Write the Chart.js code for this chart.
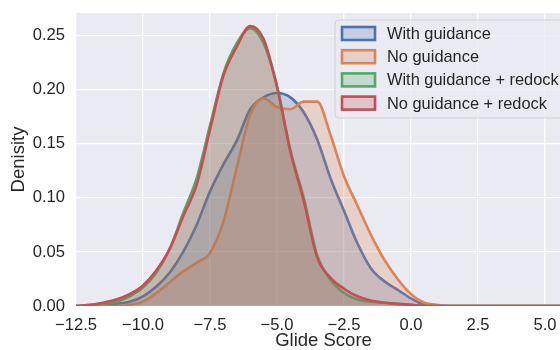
<!DOCTYPE html>
<html lang="en">
	<head>
		<meta charset="UTF-8" />
		<title>Glide Score density</title>
		<script src="https://cdn.jsdelivr.net/npm/chart.js"></script>
		<style>
			html,
			body {
				margin: 0;
				padding: 0;
				background: #ffffff;
			}
			/* the original figure is cropped on the right, so the plot runs past the frame */
			#frame {
				width: 560px;
				height: 350px;
				overflow: hidden;
			}
			#wrap {
				width: 571px;
				height: 350px;
			}
		</style>
	</head>
	<body>
		<div id="frame"><div id="wrap"><canvas id="myChart"></canvas></div></div>

		<script>
			// Glide score grid (x) and density for each group
			var scores = [
				-12.5, -12, -11.5, -11, -10.5, -10, -9.5, -9, -8.5, -8, -7.5, -7, -6.5, -6, -5.5, -5, -4.5,
				-4, -3.5, -3, -2.5, -2, -1.5, -1, -0.5, 0, 0.5, 1, 1.5, 2, 2.5, 3, 3.5, 4, 4.5, 5, 5.5, 6,
			];
			var withGuidance = [
				0.0, 0.0, 0.001, 0.002, 0.004, 0.009, 0.018, 0.031, 0.05, 0.075, 0.106, 0.131, 0.153, 0.182,
				0.193, 0.197, 0.193, 0.179, 0.154, 0.118, 0.088, 0.058, 0.035, 0.023, 0.015, 0.007, 0.001, 0,
				0, 0, 0, 0, 0, 0, 0, 0, 0, 0,
			];
			var noGuidance = [
				0, 0, 0, 0, 0.001, 0.004, 0.012, 0.022, 0.032, 0.04, 0.049, 0.078, 0.128, 0.177, 0.192, 0.184,
				0.182, 0.189, 0.189, 0.158, 0.12, 0.093, 0.066, 0.043, 0.025, 0.011, 0.003, 0.001, 0, 0, 0, 0,
				0, 0, 0, 0, 0, 0,
			];
			var withGuidanceRedock = [
				0, 0.001, 0.002, 0.004, 0.009, 0.017, 0.031, 0.053, 0.086, 0.118, 0.167, 0.215, 0.243, 0.257,
				0.243, 0.203, 0.144, 0.1, 0.047, 0.024, 0.012, 0.006, 0.004, 0.003, 0.002, 0.001, 0, 0, 0, 0,
				0, 0, 0, 0, 0, 0, 0, 0,
			];
			var noGuidanceRedock = [
				0, 0.001, 0.003, 0.006, 0.011, 0.019, 0.033, 0.053, 0.083, 0.112, 0.163, 0.213, 0.24, 0.259,
				0.247, 0.203, 0.143, 0.097, 0.045, 0.026, 0.016, 0.009, 0.005, 0.003, 0.002, 0.001, 0, 0, 0,
				0, 0, 0, 0, 0, 0, 0, 0, 0,
			];

			var seriesLabels = [
				"With guidance",
				"No guidance",
				"With guidance + redock",
				"No guidance + redock",
			];
			var seriesColors = ["#4c72b0", "#dd8452", "#55a868", "#c44e52"];
			var xTicks = [-12.5, -10, -7.5, -5, -2.5, 0, 2.5, 5];
			var yTicks = [0, 0.05, 0.1, 0.15, 0.2, 0.25];

			var fontFamily = "'Liberation Sans', Arial, sans-serif";
			var textColor = "#262626";

			function withAlpha(hex, a) {
				var r = parseInt(hex.slice(1, 3), 16);
				var g = parseInt(hex.slice(3, 5), 16);
				var b = parseInt(hex.slice(5, 7), 16);
				return "rgba(" + r + "," + g + "," + b + "," + a + ")";
			}

			function toPoints(values) {
				return scores.map(function (x, i) {
					return { x: x, y: values[i] };
				});
			}

			var allSeries = [withGuidance, noGuidance, withGuidanceRedock, noGuidanceRedock];
			var datasets = allSeries.map(function (values, i) {
				return {
					label: seriesLabels[i],
					data: toPoints(values),
					borderColor: seriesColors[i],
					backgroundColor: withAlpha(seriesColors[i], 0.25),
					borderWidth: 2.6,
					fill: "origin",
					cubicInterpolationMode: "monotone",
					pointRadius: 0,
					clip: 0,
					order: 3 - i, // later groups drawn on top
				};
			});

			// grey-blue plot background like seaborn darkgrid
			var plotBg = {
				id: "plotBg",
				beforeDraw: function (chart) {
					var a = chart.chartArea;
					var ctx = chart.ctx;
					ctx.save();
					ctx.fillStyle = "#eaeaf2";
					ctx.fillRect(a.left, a.top, a.right - a.left, a.bottom - a.top);
					ctx.restore();
				},
			};

			// framed legend in the upper right corner
			var boxLegend = {
				id: "boxLegend",
				afterDraw: function (chart) {
					var ctx = chart.ctx;
					var x0 = 335,
						y0 = 20,
						w = 229,
						h = 98,
						r = 4;
					ctx.save();
					ctx.beginPath();
					ctx.moveTo(x0 + r, y0);
					ctx.lineTo(x0 + w - r, y0);
					ctx.arcTo(x0 + w, y0, x0 + w, y0 + r, r);
					ctx.lineTo(x0 + w, y0 + h - r);
					ctx.arcTo(x0 + w, y0 + h, x0 + w - r, y0 + h, r);
					ctx.lineTo(x0 + r, y0 + h);
					ctx.arcTo(x0, y0 + h, x0, y0 + h - r, r);
					ctx.lineTo(x0, y0 + r);
					ctx.arcTo(x0, y0, x0 + r, y0, r);
					ctx.closePath();
					ctx.fillStyle = "rgba(234,234,242,0.8)";
					ctx.fill();
					ctx.strokeStyle = "#cfcfd6";
					ctx.lineWidth = 1;
					ctx.stroke();

					ctx.font = "16.4px " + fontFamily;
					ctx.textBaseline = "middle";
					ctx.textAlign = "left";
					for (var i = 0; i < seriesLabels.length; i++) {
						var cy = 33.5 + i * 23.2;
						ctx.fillStyle = withAlpha(seriesColors[i], 0.25);
						ctx.fillRect(342, cy - 6.5, 33, 13);
						ctx.strokeStyle = seriesColors[i];
						ctx.lineWidth = 2.6;
						ctx.strokeRect(342, cy - 6.5, 33, 13);
						ctx.fillStyle = textColor;
						ctx.fillText(seriesLabels[i], 387, cy + 1);
					}
					ctx.restore();
				},
			};

			var ctx = document.getElementById("myChart").getContext("2d");
			var myChart = new Chart(ctx, {
				type: "line",
				data: { datasets: datasets },
				plugins: [plotBg, boxLegend],
				options: {
					responsive: true,
					maintainAspectRatio: false,
					animation: false,
					layout: { padding: { top: 13, right: 0, left: 0, bottom: 0 } },
					plugins: {
						legend: { display: false },
						tooltip: { enabled: false },
					},
					scales: {
						x: {
							type: "linear",
							min: -12.5,
							max: 5.97,
							afterBuildTicks: function (scale) {
								scale.ticks = xTicks.map(function (v) {
									return { value: v };
								});
							},
							afterFit: function (scale) {
								scale.height = 44;
								scale.paddingLeft = 0;
								scale.paddingRight = 0;
							},
							grid: { color: "#ffffff", lineWidth: 1.3, drawTicks: false },
							border: { display: false },
							ticks: {
								padding: 9,
								color: textColor,
								maxRotation: 0,
								font: { family: fontFamily, size: 16.6 },
								callback: function (value) {
									return value.toFixed(1).replace("-", "\u2212");
								},
							},
							title: {
								display: true,
								text: "Glide Score",
								color: textColor,
								font: { family: fontFamily, size: 18.5, lineHeight: 1 },
								padding: { top: 0, bottom: 0 },
							},
						},
						y: {
							min: 0,
							max: 0.271,
							afterBuildTicks: function (scale) {
								scale.ticks = yTicks.map(function (v) {
									return { value: v };
								});
							},
							afterFit: function (scale) {
								scale.width = 76;
								scale.paddingTop = 0;
								scale.paddingBottom = 0;
							},
							grid: { color: "#ffffff", lineWidth: 1.3, drawTicks: false },
							border: { display: false },
							ticks: {
								padding: 11,
								color: textColor,
								font: { family: fontFamily, size: 16.6 },
								callback: function (value) {
									return value.toFixed(2);
								},
							},
							title: {
								display: true,
								text: "Denisity",
								color: textColor,
								font: { family: fontFamily, size: 18.5, lineHeight: 1 },
								padding: { top: 10, bottom: 0 },
							},
						},
					},
				},
			});
		</script>
	</body>
</html>
